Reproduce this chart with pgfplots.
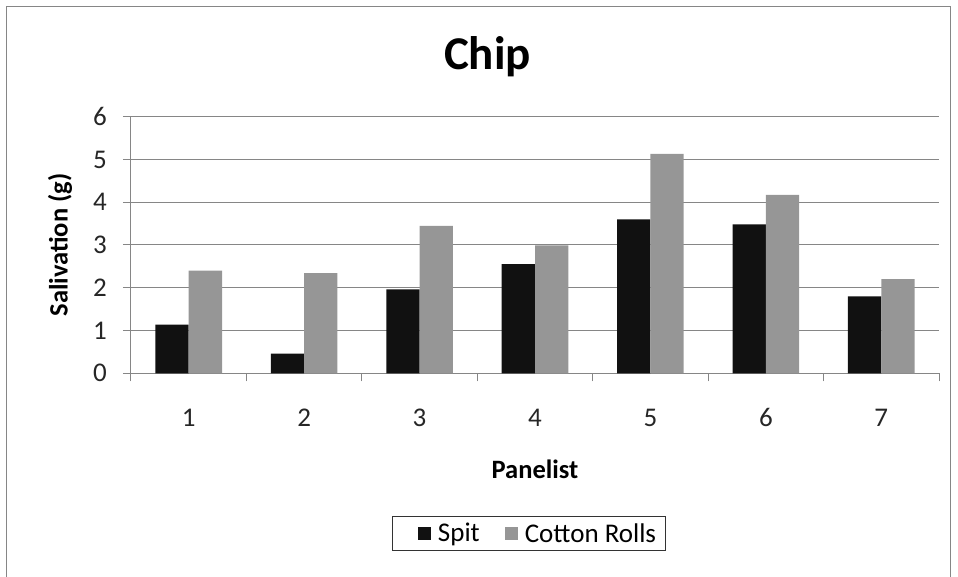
\documentclass[border=0pt]{standalone}
\usepackage{fontspec}
\setmainfont{Carlito}
\usepackage{pgfplots}
\pgfplotsset{compat=1.18}
\definecolor{spit}{HTML}{111111}
\definecolor{cotton}{HTML}{969696}
\definecolor{axgray}{HTML}{868686}
\begin{document}
\begin{tikzpicture}
\useasboundingbox (-131pt,-203.7pt) rectangle (827pt,373.3pt);
\begin{axis}[
  at={(0pt,0pt)}, anchor=south west,
  scale only axis, width=808pt, height=256.6pt,
  ybar=0pt, bar width=33.3pt,
  xmin=0.5, xmax=7.5, ymin=0, ymax=6,
  xtick={1,...,7}, minor xtick={0.5,1.5,...,7.5},
  ytick={0,...,6},
  axis lines*=left,
  ymajorgrids, grid style={axgray, line width=1pt},
  axis line style={axgray, line width=1pt},
  major tick length=8pt, minor tick length=8pt, tick align=outside,
  tick style={axgray, line width=1pt},
  major x tick style={draw=none},
  /pgf/number format/assume math mode=true,
  tick label style={font=\fontsize{27}{31}\selectfont, text=black!85},
  yticklabel style={anchor=east, inner sep=0pt, xshift=-16pt},
  xticklabel style={anchor=base, inner sep=0pt, yshift=-45pt},
  xlabel={Panelist}, ylabel={Salivation (g)},
  label style={font=\bfseries\fontsize{26.5}{30}\selectfont},
  xlabel style={at={(axis description cs:0.5,-0.373)}, anchor=center},
  ylabel style={at={(axis description cs:-0.0879,0.5)}, anchor=center},
  legend columns=2,
  legend style={at={(axis description cs:0.4926,-0.624)}, anchor=center,
    draw=black!80, line width=1pt, font=\fontsize{27}{31}\selectfont,
    inner xsep=7pt, inner ysep=5pt,
    nodes={inner xsep=2pt},
    /tikz/every even column/.append style={column sep=5pt}},
  legend image code/.code={\path (-18pt,0pt); \fill[#1,draw=none] (0pt,-6.5pt) rectangle (13pt,6.5pt); \path (18pt,0pt);},
]
\addplot[fill=spit, draw=none] coordinates {(1,1.14) (2,0.46) (3,1.96) (4,2.55) (5,3.60) (6,3.48) (7,1.80)};
\addplot[fill=cotton, draw=none] coordinates {(1,2.40) (2,2.34) (3,3.45) (4,2.99) (5,5.13) (6,4.17) (7,2.20)};
\legend{Spit, Cotton Rolls}
\end{axis}
\draw[axgray, line width=1pt] (-124pt,-215pt) -- (-124pt,366.3pt) -- (819pt,366.3pt) -- (819pt,-215pt);
\node[font=\bfseries\fontsize{47}{52}\selectfont, anchor=base] at (356.5pt,303.3pt) {Chip};
\end{tikzpicture}
\end{document}
